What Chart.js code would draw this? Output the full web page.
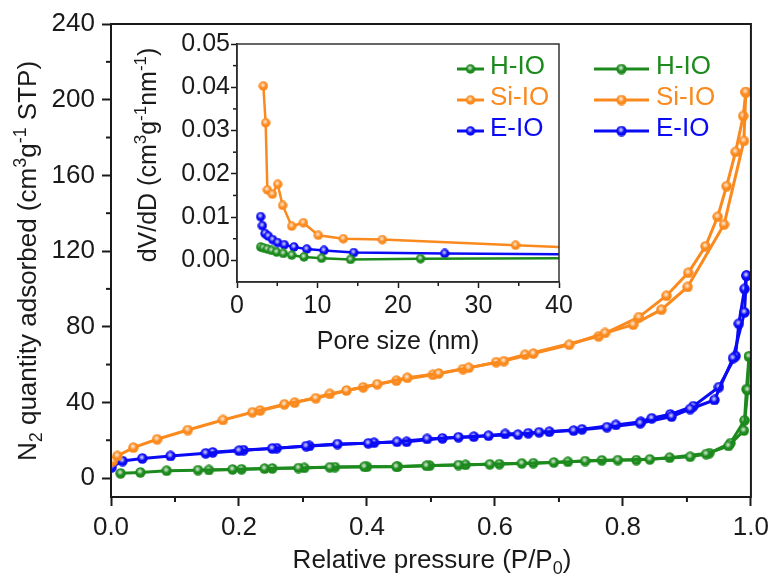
<!DOCTYPE html>
<html>
<head>
<meta charset="utf-8">
<title>N2 isotherms</title>
<script src="https://cdn.jsdelivr.net/npm/chart.js@4.4.1/dist/chart.umd.min.js"></script>
<style>
  html, body { margin: 0; padding: 0; background: #fff; }
  #wrap { position: relative; width: 775px; height: 585px; overflow: hidden; }
  #main { position: absolute; left: 0; top: 0; }
  #inset { position: absolute; left: 120px; top: 20px; }
</style>
</head>
<body>
<div id="wrap">
  <canvas id="main" width="775" height="585"></canvas>
  <canvas id="inset" width="460" height="340"></canvas>
</div>
<script>
// ---------- isotherm data (P/P0, cm3/g STP) ----------
const hioAdsP = [0.015, 0.046, 0.087, 0.136, 0.190, 0.240, 0.293, 0.342, 0.396, 0.446, 0.493, 0.543, 0.592, 0.642, 0.692, 0.741, 0.792, 0.842, 0.905, 0.930, 0.965, 0.989, 0.995, 0.997];
const hioAdsQ = [2.5, 3.0, 3.9, 4.2, 4.6, 5.0, 5.3, 5.7, 6.0, 6.0, 6.5, 6.9, 7.3, 7.8, 8.3, 9.0, 9.5, 9.9, 11.3, 12.7, 17.0, 25.1, 46.6, 64.3];
const hioDesP = [0.997, 0.993, 0.990, 0.968, 0.935, 0.873, 0.821, 0.767, 0.714, 0.660, 0.607, 0.554, 0.498, 0.448, 0.400, 0.350, 0.302, 0.252, 0.204, 0.153];
const hioDesQ = [64.3, 47.0, 30.5, 18.5, 13.2, 10.8, 9.5, 9.4, 8.6, 7.9, 7.4, 7.0, 6.6, 6.1, 6.0, 5.8, 5.4, 5.1, 4.7, 4.3];

const siAdsP = [0.003, 0.010, 0.035, 0.072, 0.120, 0.175, 0.221, 0.271, 0.320, 0.368, 0.416, 0.463, 0.512, 0.559, 0.614, 0.660, 0.716, 0.772, 0.816, 0.860, 0.901, 0.958, 0.989, 0.992];
const siAdsQ = [9.0, 11.7, 16.1, 20.5, 25.4, 30.7, 34.8, 39.0, 42.2, 46.3, 49.6, 53.0, 55.3, 58.3, 61.8, 65.8, 70.5, 76.7, 81.1, 89.0, 101.0, 134.0, 178.2, 204.0];
const siDesP = [0.992, 0.988, 0.976, 0.962, 0.948, 0.929, 0.902, 0.868, 0.825, 0.762, 0.647, 0.602, 0.550, 0.503, 0.446, 0.394, 0.342, 0.287, 0.233];
const siDesQ = [204.0, 191.4, 172.4, 154.3, 138.1, 122.5, 108.5, 96.4, 85.1, 74.9, 65.2, 61.3, 57.6, 54.6, 51.5, 48.0, 44.5, 39.9, 35.7];

const eioAdsP = [0.001, 0.018, 0.049, 0.093, 0.148, 0.200, 0.252, 0.305, 0.354, 0.402, 0.447, 0.494, 0.543, 0.590, 0.636, 0.669, 0.723, 0.775, 0.827, 0.876, 0.905, 0.943, 0.972, 0.990, 0.993];
const eioAdsQ = [5.7, 9.0, 10.4, 11.7, 13.1, 14.5, 15.7, 16.9, 18.0, 18.4, 19.2, 20.7, 21.6, 22.4, 23.0, 24.2, 25.1, 26.9, 29.0, 32.5, 36.5, 41.3, 63.4, 87.6, 107.0];
const eioDesP = [0.993, 0.990, 0.981, 0.976, 0.950, 0.910, 0.874, 0.845, 0.828, 0.789, 0.736, 0.685, 0.652, 0.616, 0.567, 0.518, 0.462, 0.411, 0.310, 0.259, 0.207, 0.159];
const eioDesQ = [107.0, 100.0, 81.6, 64.5, 48.1, 38.0, 33.7, 31.6, 29.8, 28.1, 25.8, 24.5, 23.7, 23.3, 21.9, 21.0, 19.2, 18.7, 17.0, 15.8, 14.8, 13.6];

// ---------- pore size distribution (nm, dV/dD) ----------
const hioPore = [2.94, 3.27, 3.77, 4.30, 4.93, 5.76, 6.80, 8.32, 10.5, 14.1, 22.8, 48];
const hioDvd = [0.0031, 0.0029, 0.0026, 0.0023, 0.0019, 0.0016, 0.0012, 0.0008, 0.0005, 0.0002, 0.0004, 0.0005];
const siPore = [3.27, 3.56, 3.77, 4.39, 5.05, 5.67, 6.8, 8.24, 10.1, 13.2, 18.05, 34.6, 47];
const siDvd = [0.0403, 0.0318, 0.0163, 0.0153, 0.0176, 0.0127, 0.0079, 0.0087, 0.0058, 0.0050, 0.0048, 0.0035, 0.0026];
const eioPore = [2.94, 3.15, 3.48, 3.89, 4.43, 5.05, 5.88, 7.08, 8.66, 10.8, 14.5, 25.8, 46];
const eioDvd = [0.0101, 0.0080, 0.0062, 0.0056, 0.0048, 0.0041, 0.0036, 0.0031, 0.0026, 0.0023, 0.0018, 0.0016, 0.0013];

// ---------- ticks ----------
const sampleNames = ["H-IO", "Si-IO", "E-IO"];
const pressureTicks = [0, 0.2, 0.4, 0.6, 0.8, 1.0];
const pressureMinor = [0.1, 0.3, 0.5, 0.7, 0.9];
const quantityTicks = [0, 40, 80, 120, 160, 200, 240];
const quantityMinor = [20, 60, 100, 140, 180, 220];
const poreTicks = [0, 10, 20, 30, 40];
const poreMinor = [5, 15, 25, 35];
const dvdTicks = [0, 0.01, 0.02, 0.03, 0.04, 0.05];
const dvdMinor = [0.005, 0.015, 0.025, 0.035, 0.045];

// ========================
// STYLE
// ========================
const FONT = "'Liberation Sans', Arial, sans-serif";
const INK = "#1a1a1a";
const COLORS = ["#1c8a1c", "#fb8a1e", "#0a0af5"];

// shaded ball marker used for every point
function ball(color, d) {
  const c = document.createElement("canvas");
  c.width = c.height = d;
  const g = c.getContext("2d");
  const r = d / 2;
  g.beginPath();
  g.arc(r, r, r - 0.3, 0, Math.PI * 2);
  g.fillStyle = color;
  g.fill();
  const hl = g.createRadialGradient(r * 0.9, r * 0.8, 0, r * 0.9, r * 0.8, r * 0.6);
  hl.addColorStop(0, "rgba(255,255,255,0.9)");
  hl.addColorStop(1, "rgba(255,255,255,0)");
  g.fillStyle = hl;
  g.fill();
  return c;
}

const mainBalls = COLORS.map((c) => ball(c, 11));
const insetBalls = COLORS.map((c) => ball(c, 10));

function pts(xs, ys) {
  return xs.map((x, i) => ({ x, y: ys[i] }));
}

function series(label, xs, ys, i, balls, width) {
  return {
    label,
    data: pts(xs, ys),
    borderColor: COLORS[i],
    backgroundColor: COLORS[i],
    borderWidth: width,
    pointStyle: balls[i],
    pointHoverRadius: 0,
    tension: 0,
  };
}

// text with sub/superscripts, centred on (cx, cy)
function drawRich(ctx, parts, size, cx, cy, angle) {
  const fontOf = (p) => `${p.s ? Math.round(size * 0.68) : size}px ${FONT}`;
  ctx.save();
  ctx.translate(cx, cy);
  ctx.rotate(angle);
  ctx.textAlign = "left";
  ctx.textBaseline = "alphabetic";
  ctx.fillStyle = INK;
  let w = 0;
  parts.forEach((p) => {
    ctx.font = fontOf(p);
    w += ctx.measureText(p.t).width;
  });
  let x = -w / 2;
  const base = size * 0.36;
  parts.forEach((p) => {
    ctx.font = fontOf(p);
    const dy = p.s === "sub" ? size * 0.22 : p.s === "sup" ? -size * 0.4 : 0;
    ctx.fillText(p.t, x, base + dy);
    x += ctx.measureText(p.t).width;
  });
  ctx.restore();
}

function drawMinor(chart, id, values, len, width) {
  const s = chart.scales[id];
  const a = chart.chartArea;
  const ctx = chart.ctx;
  ctx.save();
  ctx.strokeStyle = INK;
  ctx.lineWidth = width;
  values.forEach((v) => {
    const p = s.getPixelForValue(v);
    ctx.beginPath();
    if (s.isHorizontal()) {
      ctx.moveTo(p, a.bottom);
      ctx.lineTo(p, a.bottom + len);
    } else {
      ctx.moveTo(a.left, p);
      ctx.lineTo(a.left - len, p);
    }
    ctx.stroke();
  });
  ctx.restore();
}

function drawFrame(chart, width, color) {
  const a = chart.chartArea;
  const ctx = chart.ctx;
  ctx.save();
  ctx.strokeStyle = color;
  ctx.lineWidth = width;
  ctx.strokeRect(a.left, a.top, a.right - a.left, a.bottom - a.top);
  ctx.restore();
}

function drawLegend(ctx, balls, x0, x1, tx, rows, size) {
  ctx.save();
  ctx.font = `${size}px ${FONT}`;
  ctx.textAlign = "left";
  ctx.textBaseline = "middle";
  sampleNames.forEach((name, i) => {
    const y = rows[i];
    ctx.strokeStyle = COLORS[i];
    ctx.lineWidth = 3;
    ctx.beginPath();
    ctx.moveTo(x0, y);
    ctx.lineTo(x1, y);
    ctx.stroke();
    const b = balls[i];
    ctx.drawImage(b, (x0 + x1) / 2 - b.width / 2, y - b.height / 2);
    ctx.fillStyle = COLORS[i];
    ctx.fillText(name, tx, y - 2);
  });
  ctx.restore();
}

function fixedTicks(values) {
  return (scale) => {
    scale.ticks = values.map((v) => ({ value: v }));
  };
}

function axis(opts) {
  return {
    type: "linear",
    min: opts.min,
    max: opts.max,
    afterBuildTicks: fixedTicks(opts.ticks),
    afterFit: opts.fit,
    border: { display: true, color: INK, width: opts.border },
    grid: {
      drawOnChartArea: false,
      drawTicks: true,
      tickLength: opts.tickLen,
      tickWidth: opts.border,
      tickColor: INK,
    },
    ticks: {
      autoSkip: false,
      maxRotation: 0,
      padding: opts.pad,
      color: INK,
      font: { family: FONT, size: opts.font },
      callback: opts.fmt,
    },
  };
}

// ========================
// MAIN ISOTHERM CHART
// ========================
const mainDecor = {
  id: "mainDecor",
  afterDraw(chart) {
    const ctx = chart.ctx;
    drawMinor(chart, "x", pressureMinor, 5, 2);
    drawMinor(chart, "y", quantityMinor, 5, 2);
    drawFrame(chart, 2, INK);
    drawRich(ctx, [{ t: "Relative pressure (P/P" }, { t: "0", s: "sub" }, { t: ")" }], 26, 432, 559, 0);
    drawRich(
      ctx,
      [
        { t: "N" }, { t: "2", s: "sub" }, { t: " quantity adsorbed (cm" }, { t: "3", s: "sup" },
        { t: "g" }, { t: "-1", s: "sup" }, { t: " STP)" },
      ],
      26, 27, 261, -Math.PI / 2
    );
    drawLegend(ctx, mainBalls, 594, 649, 656, [69, 100, 131], 26);
  },
};

new Chart(document.getElementById("main"), {
  type: "line",
  data: {
    datasets: [
      series("Si-IO", siAdsP, siAdsQ, 1, mainBalls, 3),
      series("Si-IO", siDesP, siDesQ, 1, mainBalls, 3),
      series("E-IO", eioAdsP, eioAdsQ, 2, mainBalls, 3),
      series("E-IO", eioDesP, eioDesQ, 2, mainBalls, 3),
      series("H-IO", hioAdsP, hioAdsQ, 0, mainBalls, 3),
      series("H-IO", hioDesP, hioDesQ, 0, mainBalls, 3),
    ],
  },
  options: {
    responsive: false,
    animation: false,
    events: [],
    layout: { padding: { top: 24, right: 22, left: 0, bottom: 0 } },
    plugins: { legend: { display: false }, tooltip: { enabled: false } },
    scales: {
      x: axis({
        min: 0, max: 1, ticks: pressureTicks, border: 2, tickLen: 9, pad: 6, font: 26,
        fit: (s) => { s.height = 88; },
        fmt: (v) => Number(v).toFixed(1),
      }),
      y: axis({
        min: -10, max: 240, ticks: quantityTicks, border: 2, tickLen: 9, pad: 7, font: 26,
        fit: (s) => { s.width = 111; },
        fmt: (v) => String(v),
      }),
    },
  },
  plugins: [mainDecor],
});

// ========================
// INSET: PORE SIZE DISTRIBUTION
// ========================
const OX = 120, OY = 20; // inset canvas offset on the page

const insetDecor = {
  id: "insetDecor",
  afterDraw(chart) {
    const ctx = chart.ctx;
    drawMinor(chart, "x", poreMinor, 4, 1.5);
    drawMinor(chart, "y", dvdMinor, 4, 1.5);
    drawFrame(chart, 1.5, "#333");
    drawRich(ctx, [{ t: "Pore size (nm)" }], 25, 398 - OX, 340 - OY, 0);
    drawRich(
      ctx,
      [
        { t: "dV/dD (cm" }, { t: "3", s: "sup" }, { t: "g" }, { t: "-1", s: "sup" },
        { t: "nm" }, { t: "-1", s: "sup" }, { t: ")" },
      ],
      25, 147 - OX, 155 - OY, -Math.PI / 2
    );
    drawLegend(ctx, insetBalls, 457 - OX, 484 - OX, 490 - OX, [69 - OY, 100 - OY, 131 - OY], 26);
  },
};

new Chart(document.getElementById("inset"), {
  type: "line",
  data: {
    datasets: [
      series("H-IO", hioPore, hioDvd, 0, insetBalls, 2.5),
      series("E-IO", eioPore, eioDvd, 2, insetBalls, 2.5),
      series("Si-IO", siPore, siDvd, 1, insetBalls, 2.5),
    ],
  },
  options: {
    responsive: false,
    animation: false,
    events: [],
    layout: { padding: { top: 24, right: 21, left: 0, bottom: 0 } },
    plugins: { legend: { display: false }, tooltip: { enabled: false } },
    scales: {
      x: axis({
        min: 0, max: 40, ticks: poreTicks, border: 1.5, tickLen: 6, pad: 3, font: 25,
        fit: (s) => { s.height = 78; },
        fmt: (v) => String(v),
      }),
      y: axis({
        min: -0.005, max: 0.05, ticks: dvdTicks, border: 1.5, tickLen: 6, pad: 1, font: 25,
        fit: (s) => { s.width = 117; },
        fmt: (v) => Number(v).toFixed(2),
      }),
    },
  },
  plugins: [insetDecor],
});
</script>
</body>
</html>
